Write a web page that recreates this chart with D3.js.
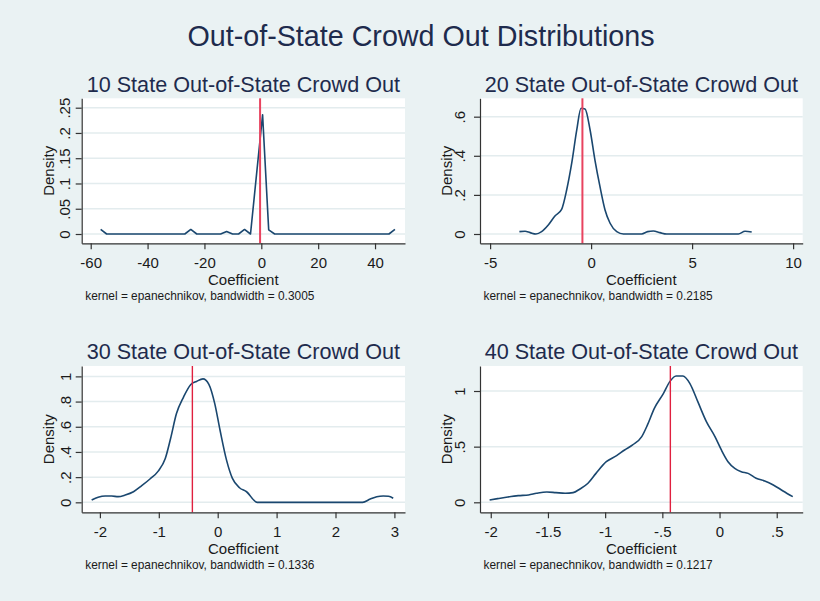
<!DOCTYPE html>
<html>
<head>
<meta charset="utf-8">
<script src="https://cdn.jsdelivr.net/npm/d3@7"></script>
<style>
  html, body { margin: 0; padding: 0; background: #eaf2f3; }
  svg { display: block; }
  text { font-family: "Liberation Sans", Arial, Helvetica, sans-serif; }
</style>
</head>
<body>
<svg id="chart" width="820" height="601"></svg>
<script>
// ---- Data -------------------------------------------------------------
const mainTitle = "Out-of-State Crowd Out Distributions";
const panelTitles = [
  "10 State Out-of-State Crowd Out",
  "20 State Out-of-State Crowd Out",
  "30 State Out-of-State Crowd Out",
  "40 State Out-of-State Crowd Out"
];
const bandwidths = ["0.3005", "0.2185", "0.1336", "0.1217"];
const xAxisTitle = "Coefficient";
const yAxisTitle = "Density";

// Pooled crowd-out estimate marked in every panel
const crowdOutEstimate = -0.43;

// Kernel density estimates (coefficient, density)
const coef10 = [-56.5, -54.4, -26.9, -24.8, -22.7, -14.3, -12.2, -10.1, -8.0, -5.9, -3.8, 0.45, 2.6, 4.7, 44.9, 47.0];
const dens10 = [0.009, 0, 0, 0.009, 0, 0, 0.005, 0, 0, 0.009, 0, 0.236, 0.008, 0, 0, 0.009];

const coef20 = [-3.55, -3.27, -3.02, -2.73, -2.45, -2.12, -1.79, -1.46, -1.21, -0.96, -0.71, -0.50, -0.30, -0.05,
                0.19, 0.44, 0.69, 0.94, 1.27, 1.60, 2.50, 2.80, 3.08, 3.41, 3.74, 7.29, 7.62, 7.95];
const dens20 = [0.012, 0.014, 0.007, 0.0, 0.012, 0.046, 0.092, 0.126, 0.225, 0.362, 0.532, 0.643, 0.639, 0.532,
                0.378, 0.242, 0.123, 0.055, 0.012, 0.0, 0.0, 0.012, 0.015, 0.007, 0.0, 0.0, 0.014, 0.010];

const coef30 = [-2.14, -2.03, -1.91, -1.80, -1.69, -1.57, -1.43, -1.29, -1.15, -1.01, -0.89, -0.80, -0.70, -0.58,
                -0.46, -0.36, -0.25, -0.15, -0.05, 0.04, 0.15, 0.25, 0.37, 0.49, 0.67, 2.46, 2.59, 2.70, 2.81, 2.90, 2.98];
const dens30 = [0.018, 0.040, 0.050, 0.050, 0.045, 0.058, 0.084, 0.132, 0.185, 0.248, 0.348, 0.507, 0.705, 0.836,
                0.934, 0.960, 0.980, 0.937, 0.784, 0.572, 0.335, 0.190, 0.116, 0.084, 0.0, 0.0, 0.026, 0.044, 0.050, 0.048, 0.032];

const coef40 = [-2.01, -1.94, -1.85, -1.76, -1.67, -1.60, -1.51, -1.43, -1.35, -1.28, -1.22, -1.15, -1.08, -0.99,
                -0.90, -0.83, -0.76, -0.68, -0.63, -0.57, -0.49, -0.435, -0.38, -0.32, -0.26, -0.19, -0.115, -0.04,
                0.016, 0.074, 0.133, 0.19, 0.25, 0.32, 0.395, 0.47, 0.555, 0.64];
const dens40 = [0.021, 0.033, 0.048, 0.060, 0.066, 0.081, 0.093, 0.087, 0.081, 0.087, 0.120, 0.171, 0.260, 0.365,
                0.419, 0.470, 0.515, 0.590, 0.695, 0.844, 0.979, 1.084, 1.135, 1.135, 1.069, 0.904, 0.725, 0.590,
                0.470, 0.365, 0.305, 0.275, 0.260, 0.216, 0.192, 0.156, 0.102, 0.051];

// Tick values and labels
const xTicks10 = [-60, -40, -20, 0, 20, 40];
const xLabels10 = ["-60", "-40", "-20", "0", "20", "40"];
const yTicks10 = [0, 0.05, 0.1, 0.15, 0.2, 0.25];
const yLabels10 = ["0", ".05", ".1", ".15", ".2", ".25"];

const xTicks20 = [-5, 0, 5, 10];
const xLabels20 = ["-5", "0", "5", "10"];
const yTicks20 = [0, 0.2, 0.4, 0.6];
const yLabels20 = ["0", ".2", ".4", ".6"];

const xTicks30 = [-2, -1, 0, 1, 2, 3];
const xLabels30 = ["-2", "-1", "0", "1", "2", "3"];
const yTicks30 = [0, 0.2, 0.4, 0.6, 0.8, 1];
const yLabels30 = ["0", ".2", ".4", ".6", ".8", "1"];

const xTicks40 = [-2, -1.5, -1, -0.5, 0, 0.5];
const xLabels40 = ["-2", "-1.5", "-1", "-.5", "0", ".5"];
const yTicks40 = [0, 0.5, 1];
const yLabels40 = ["0", ".5", "1"];

// ---- Panel set-up -----------------------------------------------------
const panels = [
  { x: coef10, y: dens10, xTicks: xTicks10, xLabels: xLabels10, yTicks: yTicks10, yLabels: yLabels10 },
  { x: coef20, y: dens20, xTicks: xTicks20, xLabels: xLabels20, yTicks: yTicks20, yLabels: yLabels20 },
  { x: coef30, y: dens30, xTicks: xTicks30, xLabels: xLabels30, yTicks: yTicks30, yLabels: yLabels30 },
  { x: coef40, y: dens40, xTicks: xTicks40, xLabels: xLabels40, yTicks: yTicks40, yLabels: yLabels40 }
];

// Plot boxes and visible axis extents
const layout = [
  { left: 81.7, right: 405,   top: 98.3, bottom: 243.3, xExt: [-63.17, 50.54], yExt: [-0.0184, 0.2686], lblGap: 11.7, curve: d3.curveLinear,   red: "#e8435f", redW: 2 },
  { left: 480,  right: 802.7, top: 98.3, bottom: 243.3, xExt: [-5.5, 10.475],  yExt: [-0.0476, 0.694],  lblGap: 15,   curve: d3.curveMonotoneX, red: "#e8435f", redW: 2 },
  { left: 81.7, right: 405,   top: 366,  bottom: 512.3, xExt: [-2.309, 3.18],  yExt: [-0.0792, 1.0824], lblGap: 10.5, curve: d3.curveMonotoneX, red: "#e0203f", redW: 1.4 },
  { left: 480,  right: 802.7, top: 366,  bottom: 512.3, xExt: [-2.094, 0.727], yExt: [-0.0898, 1.2246], lblGap: 15,   curve: d3.curveMonotoneX, red: "#e0203f", redW: 1.4 }
];

const svg = d3.select("#chart");
const titleColor = "#1e2b4d";
const textColor = "#1a1a1a";
const lineColor = "#1a476f";
const gridColor = "#e3ecee";
const axisColor = "#333333";

svg.append("rect").attr("width", 820).attr("height", 601).attr("fill", "#eaf2f3");

svg.append("text")
  .attr("x", 421).attr("y", 46)
  .attr("text-anchor", "middle")
  .attr("font-size", 28.7)
  .attr("fill", titleColor)
  .text(mainTitle);

panels.forEach((p, i) => {
  const L = layout[i];
  const g = svg.append("g");
  const x = d3.scaleLinear().domain(L.xExt).range([L.left, L.right]);
  const y = d3.scaleLinear().domain(L.yExt).range([L.bottom, L.top]);
  const cx = (L.left + L.right) / 2;
  const cy = (L.top + L.bottom) / 2;

  // plot region
  g.append("rect")
    .attr("x", L.left).attr("y", L.top)
    .attr("width", L.right - L.left).attr("height", L.bottom - L.top)
    .attr("fill", "#ffffff");

  // horizontal grid
  g.selectAll(".grid").data(p.yTicks).join("line")
    .attr("x1", L.left).attr("x2", L.right)
    .attr("y1", d => y(d)).attr("y2", d => y(d))
    .attr("stroke", gridColor).attr("stroke-width", 1.5);

  // density curve
  const pts = p.x.map((v, k) => [v, p.y[k]]);
  g.append("path")
    .datum(pts)
    .attr("fill", "none")
    .attr("stroke", lineColor)
    .attr("stroke-width", 1.6)
    .attr("stroke-linejoin", "round")
    .attr("d", d3.line().x(d => x(d[0])).y(d => y(d[1])).curve(L.curve));

  // reference line at the pooled estimate
  g.append("line")
    .attr("x1", x(crowdOutEstimate)).attr("x2", x(crowdOutEstimate))
    .attr("y1", L.top).attr("y2", L.bottom)
    .attr("stroke", L.red).attr("stroke-width", L.redW);

  // y axis
  const yAxis = g.append("g")
    .attr("transform", `translate(${L.left},0)`)
    .call(d3.axisLeft(y).tickValues(p.yTicks).tickFormat((d, k) => p.yLabels[k]).tickSize(6).tickSizeOuter(0));
  yAxis.select(".domain").attr("stroke", axisColor).attr("stroke-width", 1.2);
  yAxis.selectAll(".tick line").attr("stroke", axisColor).attr("stroke-width", 1.2);
  yAxis.selectAll(".tick text")
    .attr("x", null).attr("dy", null)
    .attr("transform", `translate(${-L.lblGap},0) rotate(-90)`)
    .attr("text-anchor", "middle")
    .attr("font-size", 15)
    .attr("fill", textColor);

  // x axis
  const xAxis = g.append("g")
    .attr("transform", `translate(0,${L.bottom})`)
    .call(d3.axisBottom(x).tickValues(p.xTicks).tickFormat((d, k) => p.xLabels[k]).tickSize(6).tickSizeOuter(0));
  xAxis.select(".domain").attr("stroke", axisColor).attr("stroke-width", 1.2);
  xAxis.selectAll(".tick line").attr("stroke", axisColor).attr("stroke-width", 1.2);
  xAxis.selectAll(".tick text")
    .attr("y", 24.5).attr("dy", null)
    .attr("font-size", 15)
    .attr("fill", textColor);

  // axis titles
  g.append("text")
    .attr("transform", `translate(${L.left - 28},${cy}) rotate(-90)`)
    .attr("text-anchor", "middle")
    .attr("font-size", 15)
    .attr("fill", textColor)
    .text(yAxisTitle);

  g.append("text")
    .attr("x", cx).attr("y", L.bottom + 41.5)
    .attr("text-anchor", "middle")
    .attr("font-size", 15)
    .attr("fill", textColor)
    .text(xAxisTitle);

  // panel title
  g.append("text")
    .attr("x", cx).attr("y", L.top - 6.6)
    .attr("text-anchor", "middle")
    .attr("font-size", 21.6)
    .attr("fill", titleColor)
    .text(panelTitles[i]);

  // kernel note
  g.append("text")
    .attr("x", L.left + 3.5).attr("y", L.bottom + 57)
    .attr("font-size", 11.9)
    .attr("fill", textColor)
    .text(`kernel = epanechnikov, bandwidth = ${bandwidths[i]}`);
});

svg.selectAll("g").attr("font-family", null);
</script>
</body>
</html>
